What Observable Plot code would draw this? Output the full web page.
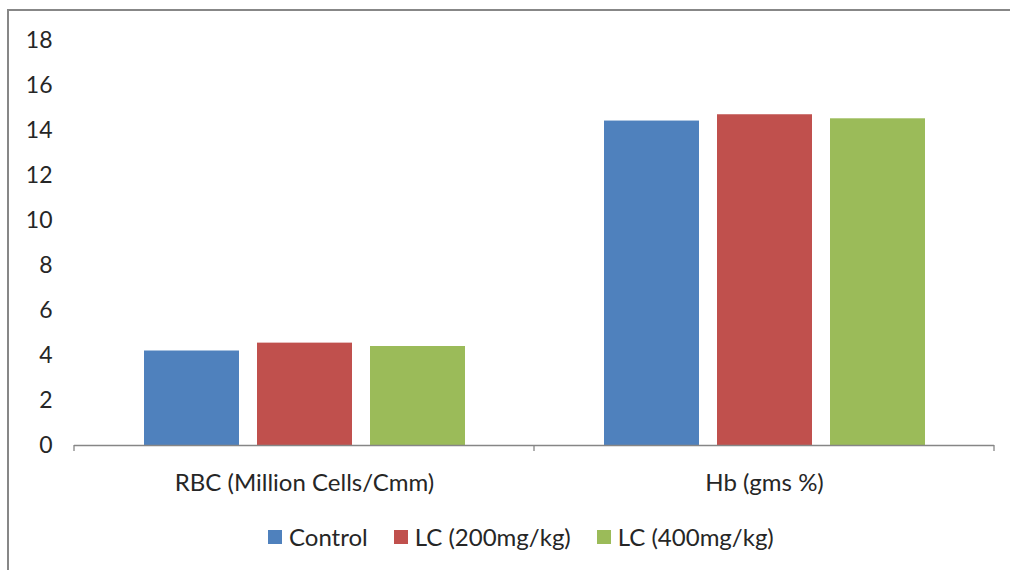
<!DOCTYPE html>
<html>
<head>
<meta charset="utf-8">
<script src="https://cdn.jsdelivr.net/npm/d3@7"></script>
<script src="https://cdn.jsdelivr.net/npm/@observablehq/plot@0.6"></script>
<style>
  html, body { margin: 0; padding: 0; background: #fff; }
  #wrap { position: relative; width: 1010px; height: 570px; overflow: hidden; font-family: Lato, "Open Sans", sans-serif; }
  #border { position: absolute; left: 7px; top: 9px; width: 1100px; height: 700px; border: 2px solid #878787; box-sizing: border-box; }
  #chart { position: absolute; left: 0; top: 0; }
  #legend { position: absolute; left: 268px; top: 522px; display: flex; align-items: center; font-size: 24px; color: #262626; }
  #legend .item { display: flex; align-items: center; margin-right: 26px; }
  #legend .sw { width: 14px; height: 14px; margin-right: 7px; }
</style>
</head>
<body>
<div id="wrap">
  <div id="border"></div>
  <div id="chart"></div>
  <div id="legend"></div>
</div>
<script>
// Haematological parameters by treatment group
const categories = ["RBC (Million Cells/Cmm)", "Hb (gms %)"];
const series = ["Control", "LC (200mg/kg)", "LC (400mg/kg)"];
const control = [4.2, 14.42];
const lc200 = [4.55, 14.7];
const lc400 = [4.4, 14.52];
const colors = ["#4F81BD", "#C0504D", "#9BBB59"];
const yTicks = [0, 2, 4, 6, 8, 10, 12, 14, 16, 18];

const seriesValues = [control, lc200, lc400];
const rows = categories.flatMap((category, i) =>
  series.map((s, j) => ({category, series: s, value: seriesValues[j][i]}))
);

const chart = Plot.plot({
  width: 1010,
  height: 500,
  marginLeft: 74,
  marginRight: 16,
  marginTop: 40,
  marginBottom: 55,
  style: {fontFamily: "Lato, 'Open Sans', sans-serif", fontSize: "23px", color: "#262626", background: "transparent"},
  fx: {domain: categories, padding: 0, label: null, axis: "bottom", tickSize: 0, tickPadding: 28},
  x: {domain: series, paddingInner: 0.16, paddingOuter: 0.615, axis: null},
  y: {domain: [0, 18], ticks: yTicks, tickSize: 0, tickPadding: 22, label: null, tickFormat: d3.format("d")},
  color: {domain: series, range: colors},
  marks: [
    Plot.barY(rows, {fx: "category", x: "series", y: "value", fill: "series"}),
    Plot.ruleY([0], {stroke: "#868686", strokeWidth: 1.3})
  ]
});

// Category labels slightly larger than the value ticks
d3.select(chart).selectAll("[aria-label='fx-axis tick label'] text, g[aria-label='fx-axis tick label']")
  .attr("font-size", 24);

// Category boundary ticks under the baseline
const fx = chart.scale("fx");
const y = chart.scale("y");
const y0 = y.apply(0);
const bounds = categories.map(c => fx.apply(c)).concat(fx.apply(categories[categories.length - 1]) + fx.bandwidth);
d3.select(chart).append("g")
  .attr("stroke", "#868686")
  .attr("stroke-width", 1.3)
  .selectAll("line")
  .data(bounds)
  .join("line")
  .attr("x1", d => d)
  .attr("x2", d => d)
  .attr("y1", y0)
  .attr("y2", y0 + 6);

document.getElementById("chart").appendChild(chart);

// Legend
const legend = d3.select("#legend");
series.forEach((s, i) => {
  const item = legend.append("div").attr("class", "item");
  item.append("div").attr("class", "sw").style("background", colors[i]);
  item.append("span").text(s);
});
</script>
</body>
</html>
